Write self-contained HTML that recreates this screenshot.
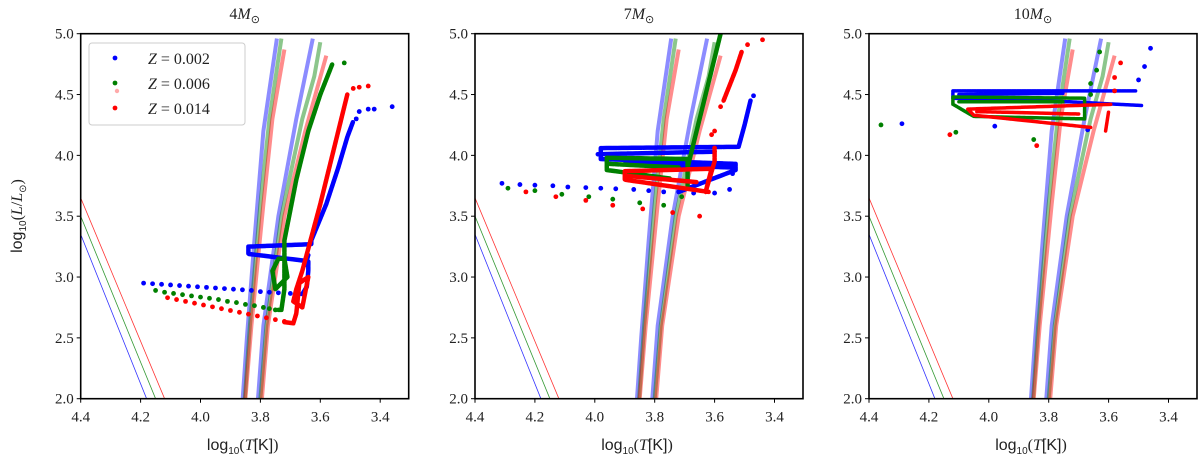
<!DOCTYPE html>
<html><head><meta charset="utf-8"><style>
body{margin:0;background:#fff}
svg text{font-family:"Liberation Serif",serif;fill:#222}
.sans{font-family:"Liberation Sans",sans-serif}
</style></head><body>
<svg id="c" width="1200" height="459" viewBox="0 0 1200 459" xmlns="http://www.w3.org/2000/svg"></svg>
<script>
const panelTitles=["4","7","10"];
const panelLefts=[80.7,475,869];
const xTicks=[4.4,4.2,4.0,3.8,3.6,3.4];
const yTicks=[2.0,2.5,3.0,3.5,4.0,4.5,5.0];
const colors=["#0000ff","#008000","#ff0000"];
const zLabels=["0.002","0.006","0.014"];
const stripLeft=[
 [[3.859,2.0],[3.845,2.5],[3.82,3.3],[3.79,4.2],[3.745,4.96]],
 [[3.852,2.0],[3.835,2.6],[3.80,3.6],[3.77,4.3],[3.73,4.96]],
 [[3.85,2.0],[3.83,2.6],[3.79,3.6],[3.76,4.3],[3.72,4.87]]];
const stripRight=[
 [[3.808,2.0],[3.79,2.6],[3.74,3.5],[3.68,4.3],[3.625,4.96]],
 [[3.80,2.0],[3.78,2.6],[3.73,3.5],[3.66,4.3],[3.62,4.65],[3.60,4.93]],
 [[3.795,2.0],[3.775,2.6],[3.72,3.5],[3.65,4.2],[3.58,4.82]]];
const zams=[[[4.4,3.35],[4.18,2.0]],[[4.4,3.5],[4.15,2.0]],[[4.4,3.65],[4.12,2.0]]];
const tracks=[
 [ {d:[[4.19,2.95],[4.16,2.945],[4.13,2.94],[4.10,2.935],[4.07,2.93],[4.04,2.925],[4.01,2.92],[3.98,2.915],[3.95,2.91],[3.92,2.905],[3.89,2.90],[3.86,2.895],[3.83,2.89],[3.80,2.88],[3.77,2.875],[3.74,2.87],[3.70,2.865],[3.67,2.86],[3.44,4.38],[3.42,4.38],[3.36,4.40],[3.47,4.36],[3.48,4.3]],
    l:[[[3.66,2.86],[3.645,2.92],[3.64,3.05],[3.64,3.13],[3.84,3.19],[3.84,3.25],[3.63,3.27],[3.63,3.30],[3.58,3.60],[3.54,3.90],[3.51,4.15],[3.49,4.28]],[[3.65,3.10],[3.64,3.18]]]},
   {d:[[4.15,2.89],[4.12,2.875],[4.09,2.865],[4.06,2.855],[4.03,2.845],[4.00,2.835],[3.97,2.825],[3.94,2.815],[3.91,2.80],[3.88,2.79],[3.85,2.775],[3.82,2.765],[3.79,2.75],[3.77,2.74],[3.75,2.73],[3.52,4.76]],
    l:[[[3.74,2.73],[3.73,2.73],[3.72,2.9],[3.72,3.15],[3.71,3.0],[3.75,2.9],[3.76,3.05],[3.74,3.15],[3.72,3.15],[3.72,3.3],[3.68,3.8],[3.64,4.2],[3.60,4.5],[3.56,4.75]]]},
   {d:[[4.11,2.83],[4.08,2.815],[4.05,2.80],[4.02,2.785],[3.99,2.77],[3.96,2.755],[3.93,2.74],[3.90,2.725],[3.87,2.71],[3.84,2.695],[3.81,2.68],[3.78,2.665],[3.75,2.65],[3.72,2.635],[3.49,4.55],[3.47,4.56],[3.44,4.57]],
    l:[[[3.72,2.63],[3.69,2.62],[3.68,2.7],[3.67,2.95],[3.64,3.0],[3.66,2.75],[3.69,2.8],[3.68,2.9],[3.66,3.05],[3.60,3.6],[3.55,4.1],[3.51,4.5]]]} ],
 [ {d:[[4.31,3.77],[4.25,3.76],[4.20,3.755],[4.14,3.75],[4.09,3.74],[4.03,3.735],[3.98,3.73],[3.93,3.725],[3.87,3.72],[3.82,3.71],[3.77,3.70],[3.72,3.70],[3.67,3.69],[3.60,3.69],[3.55,3.72],[3.54,3.85],[3.47,4.49]],
    l:[[[3.72,3.7],[3.53,3.88],[3.53,3.93],[3.98,3.97],[3.98,4.06],[3.52,4.07],[3.50,4.25],[3.48,4.45]],[[3.99,4.01],[3.60,4.03]],[[3.9,3.93],[3.54,3.90]]]},
   {d:[[4.29,3.73],[4.20,3.71],[4.11,3.68],[4.02,3.66],[3.94,3.64],[3.85,3.61],[3.77,3.59],[3.71,3.66]],
    l:[[[3.75,3.81],[3.96,3.88],[3.96,3.98],[3.69,3.97],[3.69,3.75],[3.69,3.9],[3.66,4.2],[3.62,4.6],[3.58,5.0]],[[3.95,3.93],[3.72,3.90]]]},
   {d:[[4.23,3.70],[4.13,3.66],[4.03,3.63],[3.94,3.59],[3.84,3.56],[3.74,3.53],[3.65,3.50],[3.60,4.06],[3.61,4.17],[3.60,4.2],[3.58,4.4],[3.49,4.91],[3.44,4.95]],
    l:[[[3.62,3.70],[3.90,3.80],[3.90,3.87],[3.61,3.89],[3.63,3.70],[3.60,3.95],[3.60,4.04]],[[3.57,4.45],[3.53,4.7],[3.51,4.85]],[[3.89,3.83],[3.66,3.78]]]} ],
 [ {d:[[4.29,4.26],[3.98,4.24],[3.67,4.21],[3.50,4.62],[3.48,4.73],[3.46,4.88]],
    l:[[[3.49,4.41],[3.73,4.44],[4.12,4.47],[4.12,4.53],[3.51,4.53]],[[4.10,4.50],[3.75,4.51]]]},
   {d:[[4.36,4.25],[4.11,4.19],[3.85,4.13],[3.66,4.5],[3.66,4.59],[3.64,4.7],[3.63,4.85]],
    l:[[[3.68,4.3],[4.05,4.32],[4.12,4.42],[4.12,4.48],[3.68,4.47],[3.68,4.3]],[[4.10,4.44],[3.75,4.44]]]},
   {d:[[4.13,4.17],[3.84,4.08],[3.58,4.53],[3.58,4.64],[3.56,4.76]],
    l:[[[3.66,4.23],[4.05,4.33],[4.07,4.38],[3.59,4.42]],[[3.61,4.2],[3.60,4.36]],[[4.04,4.36],[3.7,4.34]]]} ]
];
const svg=document.getElementById('c');
const NS='http://www.w3.org/2000/svg';
function mk(t,a,p){const e=document.createElementNS(NS,t);for(const k in a)e.setAttribute(k,a[k]);(p||svg).appendChild(e);return e;}
const top0=33.7,bot=398.7,W=328,XS=299.5;
const trackWidths=[4.5,4.5,3.5];
function yS(L){return bot-(L-2)*(bot-top0)/3;}
panelTitles.forEach((title,p)=>{
  const left=panelLefts[p];
  const xS=T=>left+(4.4-T)*XS;
  const g=mk('g',{});
  
  
  const clipId='clip'+p;
  const cp=mk('clipPath',{id:clipId},g);mk('rect',{x:left,y:top0,width:W,height:bot-top0},cp);
  const pl=mk('g',{'clip-path':'url(#'+clipId+')'},g);
  const pts=a=>a.map(q=>xS(q[0]).toFixed(1)+','+yS(q[1]).toFixed(1)).join(' ');
  for(let c=0;c<3;c++){
    let z=mk('polyline',{points:pts(zams[c]),fill:'none',stroke:colors[c],'stroke-width':0.8,opacity:0.8},pl);
    
    
    [stripLeft[c],stripRight[c]].forEach(s=>{
      const e=mk('polyline',{points:pts(s),fill:'none',stroke:colors[c],'stroke-width':4,opacity:0.45},pl);
      
      
    });
  }
  for(let c=0;c<3;c++){
    const tr=tracks[p][c];
    tr.l.forEach(l=>{
      const e=mk('polyline',{points:pts(l),fill:'none',stroke:colors[c],'stroke-width':trackWidths[p],'stroke-linejoin':'round','stroke-linecap':'round','stroke-dasharray':'4 1'},pl);
      
      
    });
    tr.d.forEach(q=>{
      const e=mk('circle',{cx:xS(q[0]),cy:yS(q[1]),r:2.4,fill:colors[c]},pl);
      
      
    });
  }
  const fr=mk('rect',{x:left,y:top0,width:W,height:bot-top0,fill:'none',stroke:'#000','stroke-width':1.6},g);
  
  
  xTicks.forEach(t=>{
    const x=xS(t);
    mk('line',{x1:x,x2:x,y1:bot,y2:bot+4,stroke:'#000','stroke-width':1},g);
    const e=mk('text',{x:x,y:bot+23,'text-anchor':'middle','font-size':15},g);e.textContent=t.toFixed(1);
    
    
  });
  yTicks.forEach(t=>{
    const y=yS(t);
    mk('line',{x1:left-4,x2:left,y1:y,y2:y,stroke:'#000','stroke-width':1},g);
    const e=mk('text',{x:left-7,y:y+5,'text-anchor':'end','font-size':15},g);e.textContent=t.toFixed(1);
    
    
  });
  const tt=mk('text',{x:left+W/2,y:19,'text-anchor':'middle','font-size':16},g);
  tt.innerHTML=title+'<tspan font-style="italic">M</tspan><tspan font-size="11" dy="4">⊙</tspan>';
  
  
  const xl=mk('text',{x:left+W/2-2,y:450,'text-anchor':'middle','font-size':16},g);
  xl.innerHTML='<tspan class="sans">log</tspan><tspan class="sans" font-size="10" dy="4">10</tspan><tspan dy="-4">(</tspan><tspan font-style="italic">T</tspan><tspan class="sans">[K]</tspan>)';
  
  
});
const yl=mk('text',{transform:'translate(22,216) rotate(-90)','text-anchor':'middle','font-size':16});
yl.innerHTML='<tspan class="sans">log</tspan><tspan class="sans" font-size="10" dy="4">10</tspan><tspan dy="-4">(</tspan><tspan font-style="italic">L</tspan>/<tspan font-style="italic">L</tspan><tspan font-size="10" dy="4">⊙</tspan><tspan dy="-4">)</tspan>';


const lg=mk('g',{});


mk('rect',{x:89,y:43,width:156,height:82,rx:3,fill:'#fff','fill-opacity':0.85,stroke:'#ccc','stroke-width':1},lg);
zLabels.forEach((z,i)=>{
  const y=58+i*25;
  const m=mk('circle',{cx:115,cy:y,r:2.4,fill:colors[i]},lg);
  
  
  const t=mk('text',{x:148,y:y+6,'font-size':16},lg);
  t.innerHTML='<tspan font-style="italic">Z</tspan> = '+z;
  
  
});
mk('circle',{cx:117,cy:91,r:2.2,fill:'#ffaaaa'},lg);
</script>
</body></html>
